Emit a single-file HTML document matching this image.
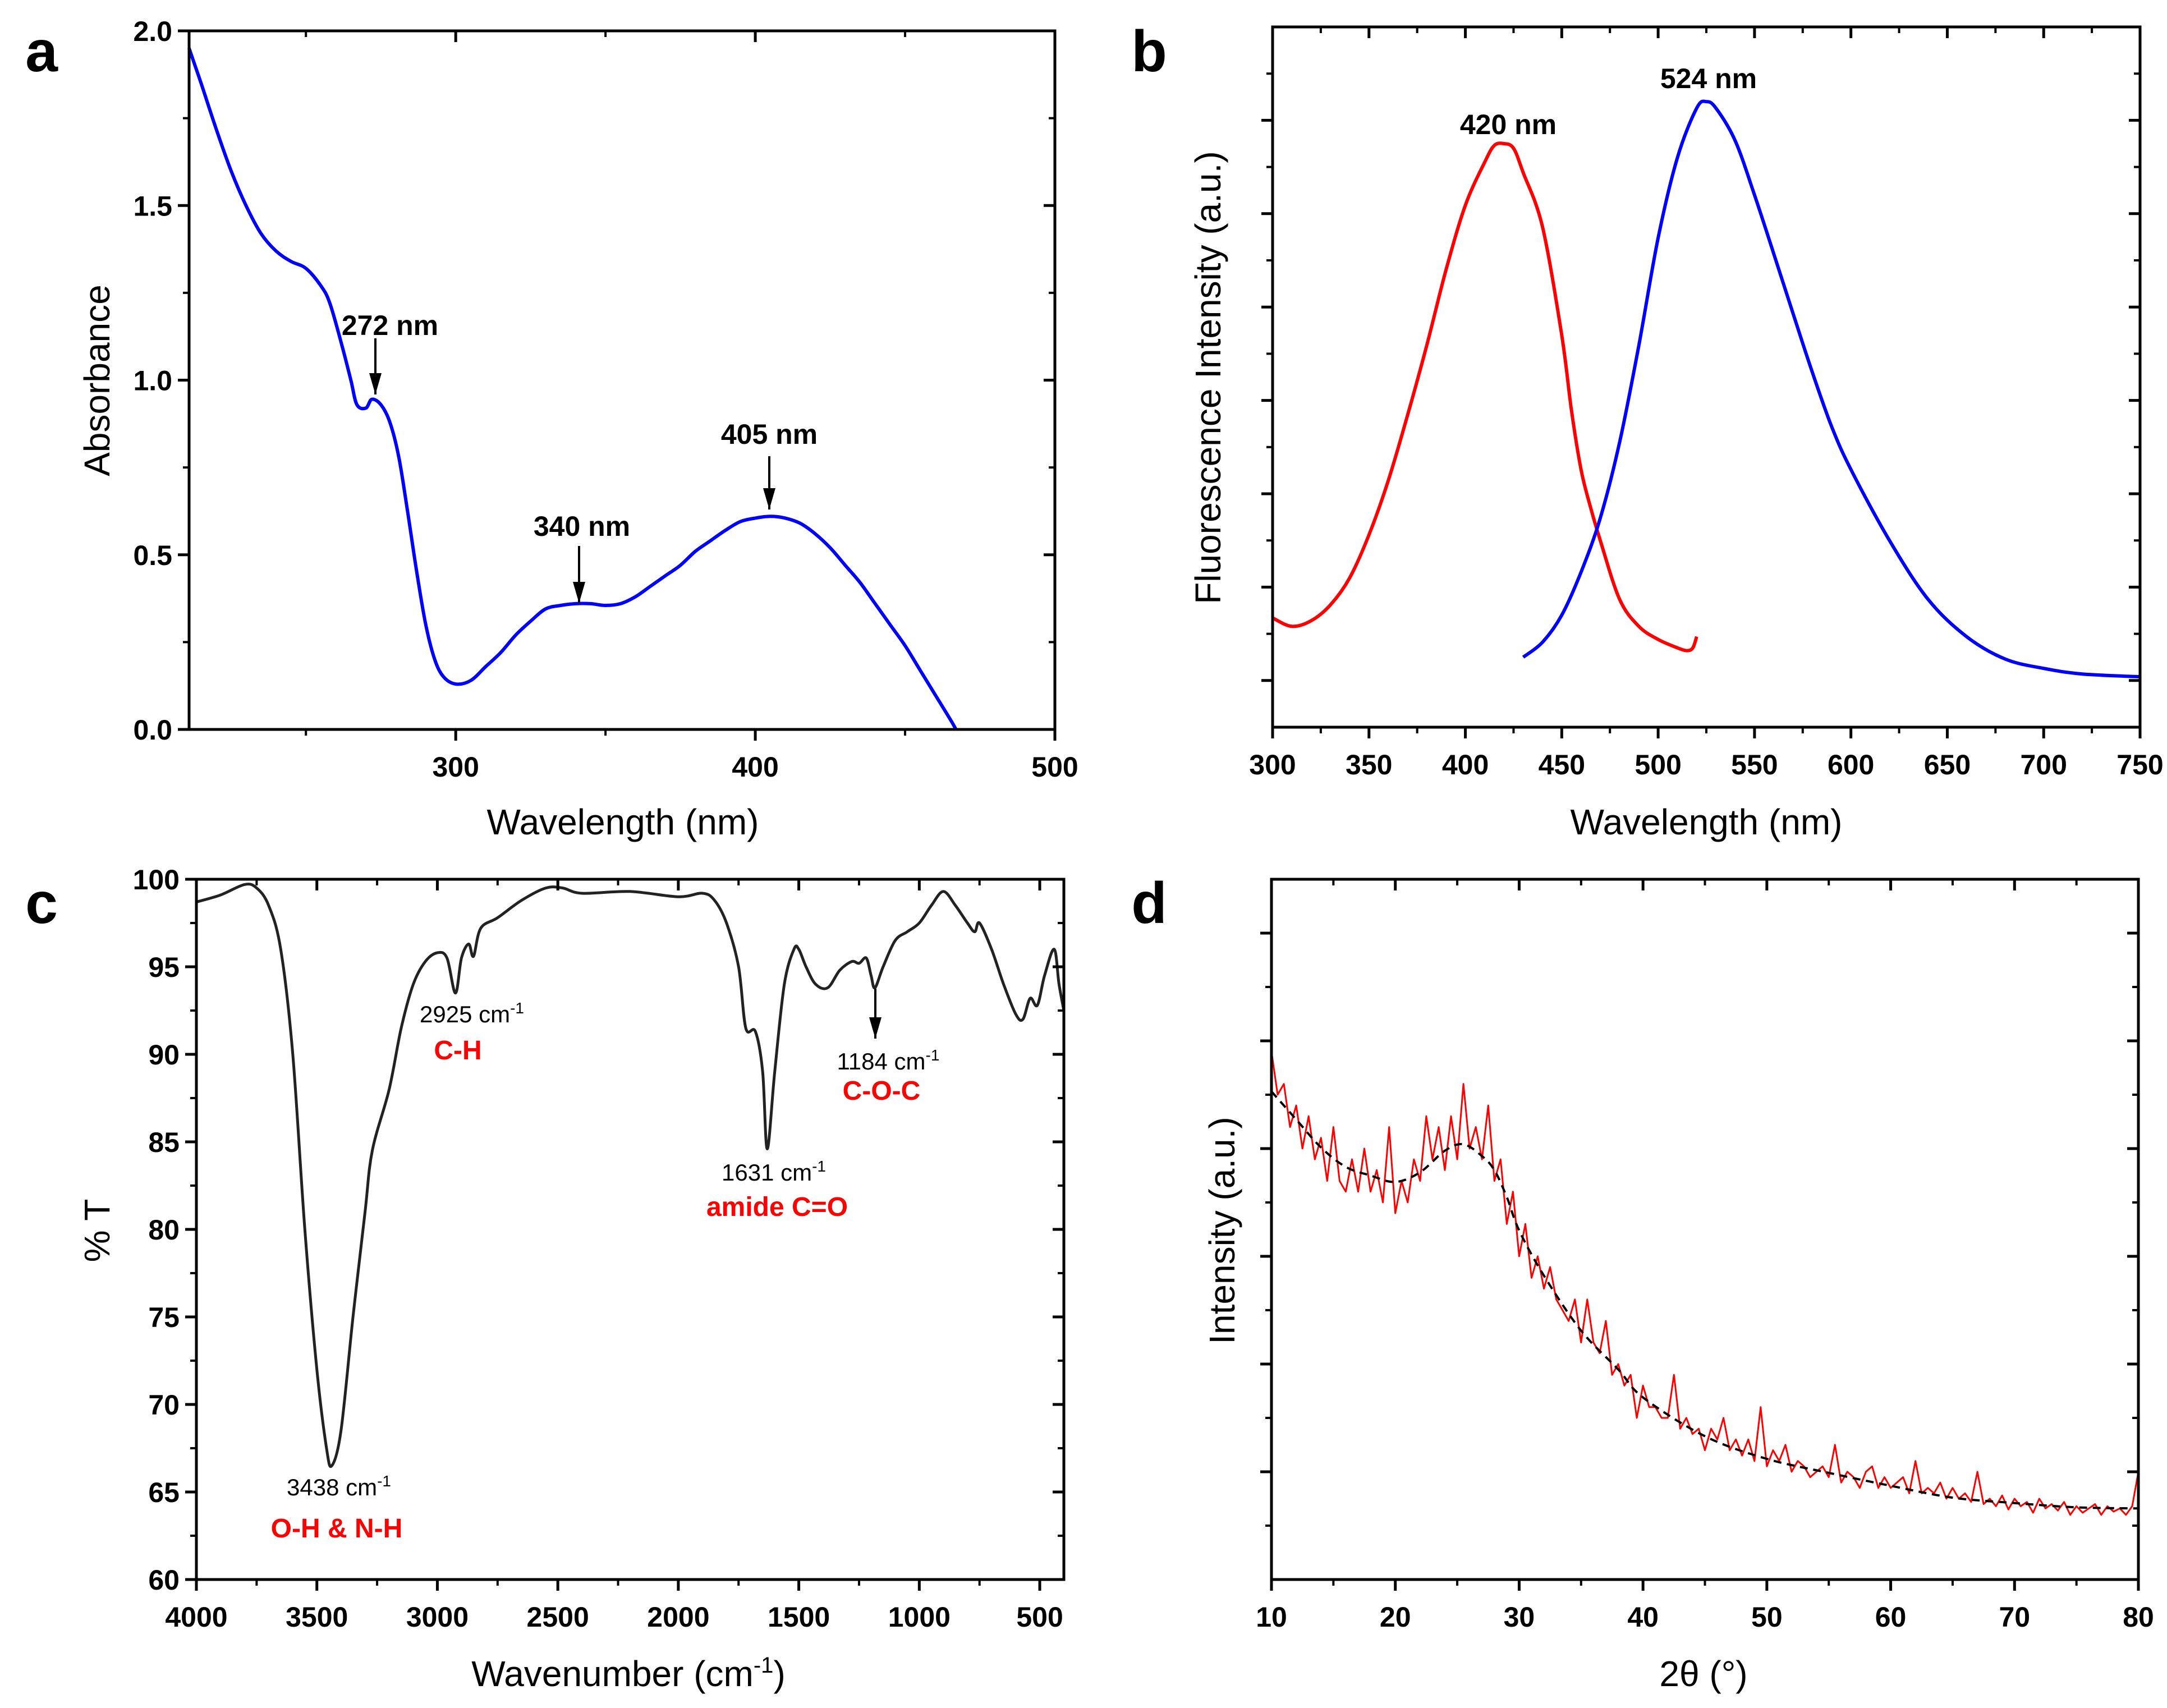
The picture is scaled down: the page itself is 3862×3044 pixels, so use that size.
<!DOCTYPE html>
<html><head><meta charset="utf-8"><style>
html,body{margin:0;padding:0;background:#fff;}
svg{display:block;}
text{font-family:"Liberation Sans",sans-serif;}
.tk{font-family:"Liberation Sans Narrow","Liberation Sans",sans-serif;font-weight:bold;font-size:50px;}
.ttl{font-size:64px;}
.lt{font-weight:bold;font-size:104px;}
.ann{font-family:"Liberation Sans Narrow","Liberation Sans",sans-serif;font-weight:bold;font-size:50px;}
.annc{font-family:"Liberation Sans Narrow","Liberation Sans",sans-serif;font-size:42px;}
.annr{font-family:"Liberation Sans Narrow","Liberation Sans",sans-serif;font-weight:bold;font-size:48px;fill:#ff0000;}
</style></head><body>
<svg id="fig" width="3862" height="3044" viewBox="0 0 3862 3044" xmlns="http://www.w3.org/2000/svg">
<defs><marker id="ah" markerWidth="22" markerHeight="38" refX="11" refY="38" orient="0" markerUnits="userSpaceOnUse" viewBox="0 0 22 38"><path d="M0,0 L22,0 L11,38 z" fill="#000"/></marker></defs>
<text class="lt" x="74" y="127" text-anchor="middle">a</text>
<text class="lt" x="2048" y="127" text-anchor="middle">b</text>
<text class="lt" x="74" y="1645" text-anchor="middle">c</text>
<text class="lt" x="2048" y="1645" text-anchor="middle">d</text>
</svg>
<script>
// ---- Panel a data (UV-Vis) ----
const aX=[211,215,220,225,230,235,240,245,250,255,258,262,265,267,270,272,275,278,281,284,287,290,293,296,300,305,310,315,320,325,330,335,340,345,350,355,360,365,370,375,380,385,390,395,400,405,410,415,420,425,430,435,440,445,450,455,460,465,467];
const aY=[1.95,1.85,1.72,1.6,1.5,1.42,1.37,1.34,1.32,1.27,1.22,1.10,1.0,0.93,0.92,0.945,0.93,0.88,0.78,0.62,0.45,0.3,0.2,0.15,0.13,0.14,0.18,0.22,0.27,0.31,0.345,0.355,0.36,0.36,0.355,0.36,0.38,0.41,0.44,0.47,0.51,0.54,0.57,0.595,0.605,0.61,0.605,0.59,0.56,0.52,0.47,0.42,0.36,0.3,0.24,0.17,0.1,0.03,0];
const aXTicks=[300,400,500];
const aYTicks=[0.0,0.5,1.0,1.5,2.0];
const aYLabels=["0.0","0.5","1.0","1.5","2.0"];
// ---- Panel b data (fluorescence) ----
const bRedX=[300,310,320,330,340,350,360,370,380,390,400,410,415,420,425,430,440,450,455,460,465,470,480,490,500,510,515,518,520];
const bRedY=[1.17,1.08,1.14,1.31,1.6,2.06,2.64,3.34,4.09,4.9,5.59,6.05,6.23,6.25,6.2,5.94,5.36,4.2,3.4,2.76,2.35,2.0,1.37,1.08,0.94,0.85,0.82,0.85,0.97];
const bBlueX=[430,440,450,460,470,480,490,500,510,520,525,530,540,550,560,570,580,590,600,620,640,660,680,700,720,750];
const bBlueY=[0.75,0.91,1.2,1.66,2.24,3.05,4.09,5.24,6.1,6.63,6.7,6.63,6.28,5.7,5.07,4.43,3.8,3.22,2.76,2.0,1.37,0.97,0.73,0.63,0.57,0.54];
const bXTicks=[300,350,400,450,500,550,600,650,700,750];
// ---- Panel c data (FTIR) ----
const cX=[4000,3900,3800,3750,3700,3650,3600,3550,3500,3460,3438,3400,3350,3300,3270,3200,3150,3100,3050,3000,2960,2925,2900,2870,2850,2820,2750,2650,2550,2480,2400,2200,2000,1900,1850,1800,1750,1720,1680,1650,1631,1600,1560,1520,1500,1470,1430,1380,1330,1280,1250,1220,1200,1184,1150,1100,1050,1000,950,900,850,800,770,750,700,650,600,570,540,510,480,440,420,400];
const cY=[98.7,99.1,99.7,99.5,98.5,96,90,80,72,67.5,66.5,68.5,75,81,84.5,88,91.5,94,95.3,95.8,95.5,93.5,95.5,96.3,95.6,97.2,97.8,98.8,99.5,99.5,99.2,99.3,99.0,99.2,98.8,97.5,95,91.5,91.3,89,84.6,89,94,96,96,95,94,93.8,94.8,95.3,95.2,95.5,94.5,93.8,95,96.5,97,97.5,98.5,99.3,98.5,97.5,97,97.5,96,94,92.3,92,93.2,92.8,94.5,96,94,92.5];
const cXTicks=[4000,3500,3000,2500,2000,1500,1000,500];
const cYTicks=[60,65,70,75,80,85,90,95,100];
// ---- Panel d data (XRD) ----
const dFitX=[10,12,14,16,18,20,22,24,25.5,27,28,29,30,32,35,38,40,45,50,55,60,65,70,75,80];
const dFitY=[4.53,4.27,4.01,3.83,3.75,3.69,3.78,3.98,4.04,3.93,3.8,3.55,3.24,2.82,2.31,1.95,1.69,1.33,1.12,0.99,0.87,0.76,0.71,0.67,0.66];
const dRawX=[10,10.5,11,11.5,12,12.5,13,13.5,14,14.5,15,15.5,16,16.5,17,17.5,18,18.5,19,19.5,20,20.5,21,21.5,22,22.5,23,23.5,24,24.5,25,25.5,26,26.5,27,27.5,28,28.5,29,29.5,30,30.5,31,31.5,32,32.5,33,33.5,34,34.5,35,35.5,36,36.5,37,37.5,38,38.5,39,39.5,40,40.5,41,41.5,42,42.5,43,43.5,44,44.5,45,45.5,46,46.5,47,47.5,48,48.5,49,49.5,50,50.5,51,51.5,52,52.5,53,53.5,54,54.5,55,55.5,56,56.5,57,57.5,58,58.5,59,59.5,60,60.5,61,61.5,62,62.5,63,63.5,64,64.5,65,65.5,66,66.5,67,67.5,68,68.5,69,69.5,70,70.5,71,71.5,72,72.5,73,73.5,74,74.5,75,75.5,76,76.5,77,77.5,78,78.5,79,79.5,80];
const dRawY=[4.9,4.5,4.6,4.2,4.4,4.0,4.3,3.9,4.1,3.7,4.2,3.7,3.6,3.9,3.6,4.0,3.6,3.8,3.5,4.2,3.4,3.7,3.5,3.9,3.7,4.3,3.9,4.2,3.8,4.3,3.9,4.6,4.0,4.2,3.9,4.4,3.7,3.9,3.3,3.6,3.0,3.3,2.8,3.0,2.7,2.9,2.6,2.5,2.4,2.6,2.2,2.6,2.2,2.1,2.4,1.9,2.0,1.8,1.9,1.5,1.8,1.6,1.6,1.5,1.5,1.9,1.4,1.5,1.35,1.4,1.2,1.4,1.3,1.5,1.2,1.3,1.15,1.3,1.1,1.6,1.05,1.2,1.1,1.25,1.0,1.1,1.05,0.95,1.0,1.05,0.95,1.25,0.9,1.0,0.95,0.85,1.0,1.05,0.85,0.95,0.85,0.9,0.95,0.8,1.1,0.8,0.85,0.8,0.9,0.75,0.85,0.75,0.8,0.72,1.0,0.7,0.75,0.68,0.78,0.65,0.75,0.68,0.72,0.62,0.75,0.66,0.7,0.64,0.72,0.6,0.68,0.62,0.66,0.7,0.6,0.68,0.63,0.66,0.6,0.68,1.0];
const dXTicks=[10,20,30,40,50,60,70,80];

const NS="http://www.w3.org/2000/svg";
const svg=document.getElementById('fig');
function mk(tag,attrs,parent){const e=document.createElementNS(NS,tag);for(const k in attrs)e.setAttribute(k,attrs[k]);(parent||svg).appendChild(e);return e;}
function scale(d0,d1,p0,p1){return v=>p0+(v-d0)/(d1-d0)*(p1-p0);}

function axes(g,L,R,T,B,sx,sy,xMaj,xMin,yMaj,yMin,xLab,yLab,pfx){
  const ML=20,mL=11;
  xMaj.forEach((v,i)=>{const x=sx(v);
    const t1=mk('line',{x1:x,y1:B,x2:x,y2:B+ML,stroke:'#000','stroke-width':5},g);
    
    
    mk('line',{x1:x,y1:T,x2:x,y2:T+ML,stroke:'#000','stroke-width':5},g);
    if(xLab){const t=mk('text',{x:x,y:B+84,'text-anchor':'middle',class:'tk'},g);t.textContent=xLab[i];
      
      }
  });
  xMin.forEach(v=>{const x=sx(v);
    mk('line',{x1:x,y1:B,x2:x,y2:B+mL,stroke:'#000','stroke-width':4},g);
    mk('line',{x1:x,y1:T,x2:x,y2:T+mL,stroke:'#000','stroke-width':4},g);});
  yMaj.forEach((v,i)=>{const y=sy(v);
    const t1=mk('line',{x1:L-ML,y1:y,x2:L,y2:y,stroke:'#000','stroke-width':5},g);
    
    
    mk('line',{x1:R-ML,y1:y,x2:R,y2:y,stroke:'#000','stroke-width':5},g);
    if(yLab){const t=mk('text',{x:L-30,y:y+18,'text-anchor':'end',class:'tk'},g);t.textContent=yLab[i];
      
      }
  });
  yMin.forEach(v=>{const y=sy(v);
    mk('line',{x1:L-mL,y1:y,x2:L,y2:y,stroke:'#000','stroke-width':4},g);
    mk('line',{x1:R-mL,y1:y,x2:R,y2:y,stroke:'#000','stroke-width':4},g);});
  const fr=mk('rect',{x:L,y:T,width:R-L,height:B-T,fill:'none',stroke:'#000','stroke-width':5},g);
  
  
}
function line(g,xs,ys,sx,sy,color,w,dash,smooth){
  const P=xs.map((x,i)=>[sx(x),sy(ys[i])]);
  let d='M'+P[0][0].toFixed(1)+','+P[0][1].toFixed(1);
  for(let i=1;i<P.length;i++){
    if(smooth){
      const p0=P[Math.max(0,i-2)],p1=P[i-1],p2=P[i],p3=P[Math.min(P.length-1,i+1)];
      const c1=[p1[0]+(p2[0]-p0[0])/6,p1[1]+(p2[1]-p0[1])/6];
      const c2=[p2[0]-(p3[0]-p1[0])/6,p2[1]-(p3[1]-p1[1])/6];
      d+=' C'+c1[0].toFixed(1)+','+c1[1].toFixed(1)+' '+c2[0].toFixed(1)+','+c2[1].toFixed(1)+' '+p2[0].toFixed(1)+','+p2[1].toFixed(1);
    } else d+=' L'+P[i][0].toFixed(1)+','+P[i][1].toFixed(1);
  }
  const a={d:d,fill:'none',stroke:color,'stroke-width':w,'stroke-linejoin':'round'};
  if(dash)a['stroke-dasharray']=dash;
  return mk('path',a,g);
}
function txt(g,x,y,s,cls,rot){const a={x:x,y:y,'text-anchor':'middle'};if(cls)a['class']=cls;if(rot)a.transform='rotate(-90 '+x+' '+y+')';const t=mk('text',a,g);t.textContent=s;return t;}
function arrow(g,x,y1,y2){return mk('line',{x1:x,y1:y1,x2:x,y2:y2,stroke:'#000','stroke-width':4,'marker-end':'url(#ah)'},g);}
function range(a,b,s){const r=[];for(let v=a;v<=b+1e-9;v+=s)r.push(+v.toFixed(4));return r;}

// ===== Panel a =====
{const g=mk('g',{});


const L=337,R=1880,T=55,B=1300;
const sx=scale(211,500,L,R), sy=scale(0,2,B,T);
const p=line(g,aX,aY,sx,sy,'#0000ff',6,null,true);


axes(g,L,R,T,B,sx,sy,aXTicks,[250,350,450],aYTicks,[0.25,0.75,1.25,1.75],aXTicks.map(String),aYLabels,'a');
let t=txt(g,1110,1487,'Wavelength (nm)','ttl');


t=txt(g,195,678,'Absorbance','ttl',true);


t=txt(g,695,597,'272 nm','ann');


arrow(g,669,603,703);
t=txt(g,1037,955,'340 nm','ann');


arrow(g,1032,973,1075);
t=txt(g,1371,791,'405 nm','ann');


arrow(g,1371,813,908);
}
// ===== Panel b =====
{const g=mk('g',{});


const L=2268,R=3814,T=48,B=1296;
const sx=scale(300,750,L,R), sy=scale(0,7.5,B,T);
let p=line(g,bRedX,bRedY,sx,sy,'#ff0000',6,null,true);


p=line(g,bBlueX,bBlueY,sx,sy,'#0000ff',6,null,true);


axes(g,L,R,T,B,sx,sy,bXTicks,range(325,725,50),[0.5,1.5,2.5,3.5,4.5,5.5,6.5],[1,2,3,4,5,6,7],bXTicks.map(String),null,'b');
let t=txt(g,3041,1487,'Wavelength (nm)','ttl');


t=txt(g,2175,673,'Fluorescence Intensity (a.u.)','ttl',true);


t=txt(g,2688,239,'420 nm','ann');


t=txt(g,3045,157,'524 nm','ann');


}
// ===== Panel c =====
{const g=mk('g',{});


const L=350,R=1896,T=1567,B=2815;
const sx=scale(4000,400,L,R), sy=scale(60,100,B,T);
const p=line(g,cX,cY,sx,sy,'#222222',5,null,true);


axes(g,L,R,T,B,sx,sy,cXTicks,[3750,3250,2750,2250,1750,1250,750],cYTicks,range(62.5,97.5,5),cXTicks.map(String),cYTicks.map(String),'c');
let t=mk('text',{x:1120,y:3005,'text-anchor':'middle',class:'ttl'},g);
t.innerHTML='Wavenumber (cm<tspan dy="-24" font-size="40">-1</tspan><tspan dy="24">)</tspan>';


t=txt(g,195,2193,'% T','ttl',true);


const anns=[[841,1822,'2925'],[604,2665,'3438'],[1379,2104,'1631'],[1583,1906,'1184']];
anns.forEach(a=>{const e=mk('text',{x:a[0],y:a[1],'text-anchor':'middle',class:'annc'},g);
e.innerHTML=a[2]+' cm<tspan dy="-16" font-size="28">-1</tspan>';

});
const reds=[[816,1888,'C-H','ch'],[600,2740,'O-H & N-H','oh-nh'],[1385,2167,'amide C=O','amide'],[1571,1960,'C-O-C','coc']];
reds.forEach(a=>{const e=txt(g,a[0],a[1],a[2],'annr');

});
arrow(g,1560,1762,1851);
}
// ===== Panel d =====
{const g=mk('g',{});


const L=2266,R=3811,T=1567,B=2815;
const sx=scale(10,80,L,R), sy=scale(0,6.5,B,T);
let p=line(g,dRawX,dRawY,sx,sy,'#ff0000',3);


p=line(g,dFitX,dFitY,sx,sy,'#000000',4,'14,10',true);


axes(g,L,R,T,B,sx,sy,dXTicks,range(15,75,10),[1,2,3,4,5,6],[0.5,1.5,2.5,3.5,4.5,5.5],dXTicks.map(String),null,'d');
let t=mk('text',{x:3036,y:3005,'text-anchor':'middle','font-size':64,'font-family':'Liberation Serif, serif'},g);
t.textContent='2θ (°)';


t=txt(g,2200,2193,'Intensity (a.u.)','ttl',true);


}
</script>
</body></html>
